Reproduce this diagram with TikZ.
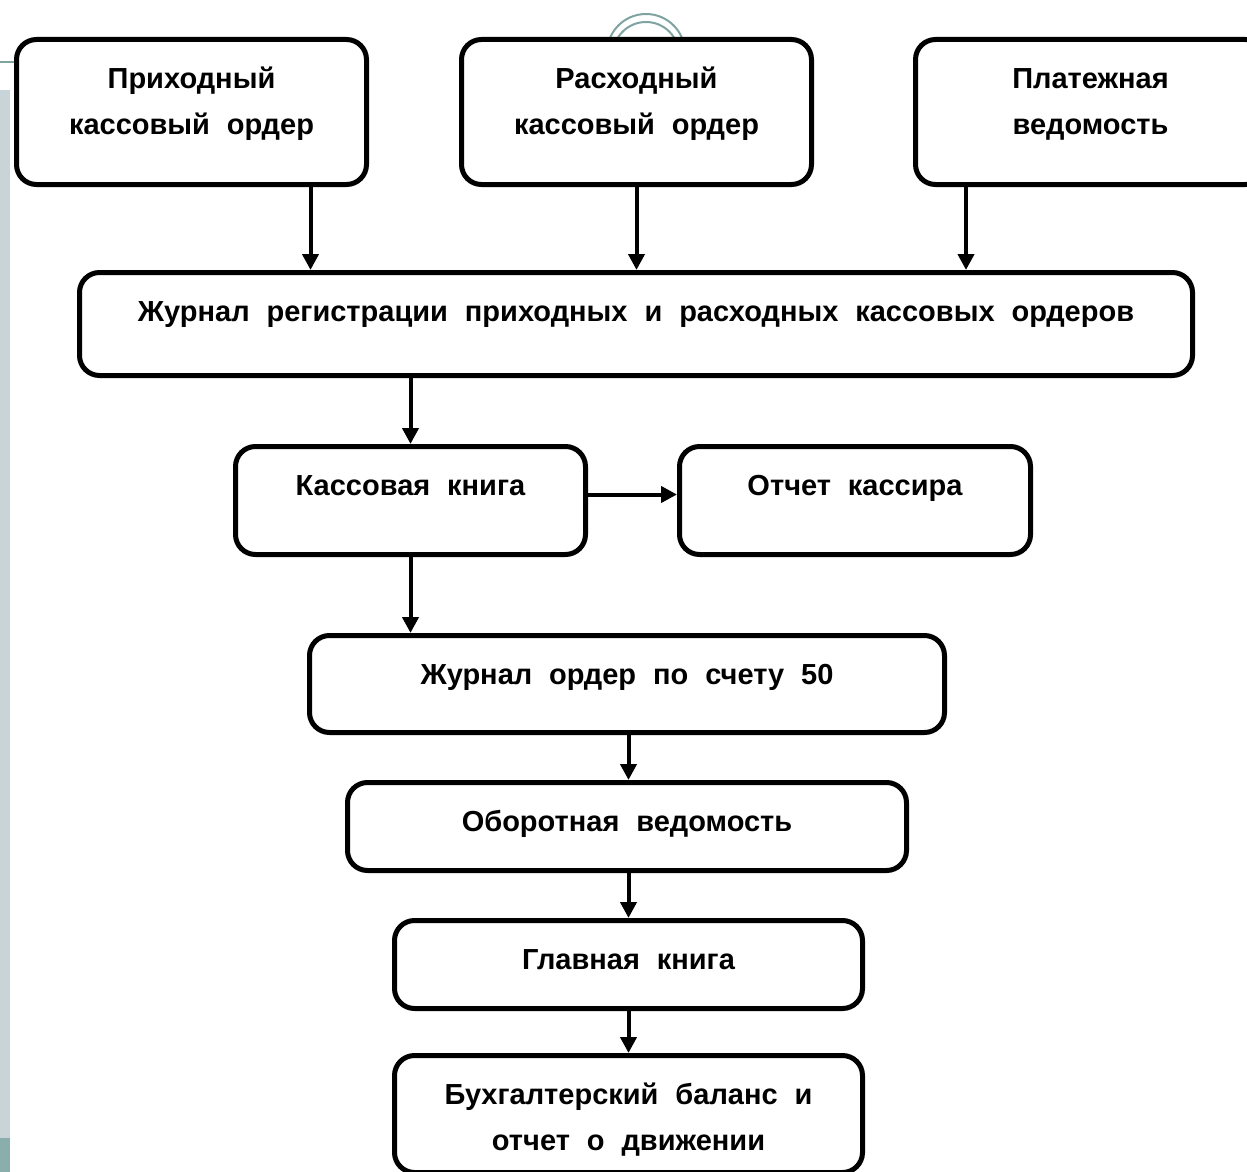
\documentclass[tikz,border=0pt]{standalone}
\usepackage{fontspec}
\setmainfont{Liberation Sans}[WordSpace=2.1]
\usepackage{xcolor}
\usetikzlibrary{arrows.meta}
\usetikzlibrary{positioning}
\definecolor{polosa}{HTML}{C8D4D8}
\definecolor{morskoy}{HTML}{8AAEAC}
\definecolor{duga}{HTML}{7FA3A1}
\tikzset{
  blok/.style={draw, fill=white, line width=2.5pt, rounded corners=10pt,
    anchor=north west, inner xsep=0pt, inner ysep=0pt, align=center,
    font=\fontsize{14.5}{23}\selectfont\bfseries, text height=24.5pt},
  dvablok/.style={blok, text height=47.5pt},
  strelka/.style={line width=2pt, -{Triangle[length=8pt,width=8pt]}}
}
\begin{document}
\begin{tikzpicture}[x=0.5pt,y=-0.5pt]
	\useasboundingbox (0,0) rectangle (1247,1172);
	%slide background
	\fill[polosa] (0,90) rectangle (10,1138);
	\fill[morskoy] (0,1138) rectangle (10,1172);
	\draw[duga, line width=1pt] (0,62)--(14,62);
	\draw[duga, line width=1pt] (646,53) circle (39);
	\draw[duga, line width=1pt] (646,55) circle (33);
	%documents
	\node[dvablok, minimum width=175pt, text depth=25pt] (prih) at (14,37) {Приходный\\кассовый ордер};
	\node[dvablok, minimum width=175pt, text depth=25pt] (rash) at (459,37) {Расходный\\кассовый ордер};
	\node[dvablok, minimum width=175pt, text depth=25pt] (plat) at (913,37) {Платежная\\ведомость};
	%registers
	\node[blok, minimum width=556.5pt, text depth=27pt] (zhurnal) at (77,270) {Журнал регистрации приходных и расходных кассовых ордеров};
	\node[blok, minimum width=175pt, text depth=29.5pt] (kniga) at (233,444) {Кассовая книга};
	\node[blok, minimum width=175.5pt, text depth=29.5pt] (otchet) at (677,444) {Отчет кассира};
	\node[blok, minimum width=317.5pt, text depth=24pt] (order) at (307,633) {Журнал ордер по счету 50};
	\node[blok, minimum width=279.5pt, text depth=19.5pt] (oborot) at (345,780) {Оборотная ведомость};
	\node[blok, minimum width=234pt, text depth=19.5pt] (glavnaya) at (392,918) {Главная книга};
	\node[dvablok, minimum width=234pt, text depth=11pt] (balans) at (392,1053) {Бухгалтерский баланс и\\отчет о движении};
	%arrows
	\draw[strelka] ([xshift=59.5pt]prih.south) -- ([xshift=59.5pt]prih.south |- zhurnal.north);
	\draw[strelka] (rash.south) -- (rash.south |- zhurnal.north);
	\draw[strelka] ([xshift=26.5pt]plat.south west) -- ([xshift=26.5pt]plat.south west |- zhurnal.north);
	\draw[strelka] (kniga.north |- zhurnal.south) -- (kniga.north);
	\draw[strelka] ([yshift=3pt]kniga.east) -- ([yshift=3pt]otchet.west);
	\draw[strelka] (kniga.south) -- (kniga.south |- order.north);
	\draw[strelka] (order.south -| glavnaya.north) -- (oborot.north -| glavnaya.north);
	\draw[strelka] (oborot.south -| glavnaya.north) -- (glavnaya.north);
	\draw[strelka] (glavnaya.south) -- (balans.north);
\end{tikzpicture}
\end{document}
